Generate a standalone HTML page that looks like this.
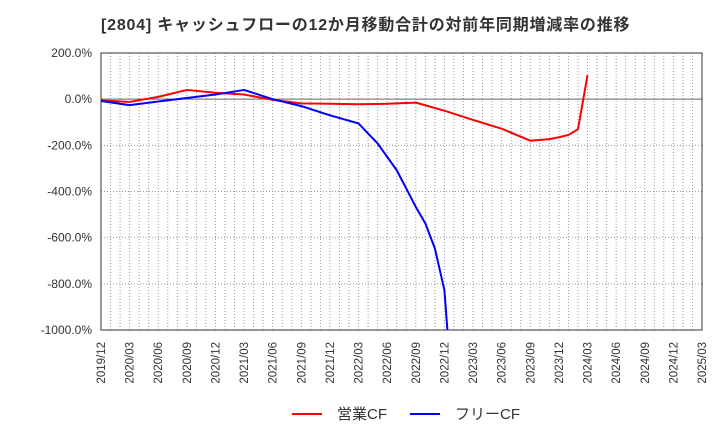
<!DOCTYPE html>
<html><head><meta charset="utf-8"><style>
body{margin:0;background:#fff;}
svg text{font-family:"Liberation Sans","Noto Sans CJK JP",sans-serif;}
</style></head><body>
<svg id="chart" width="720" height="440" xmlns="http://www.w3.org/2000/svg">
<text x="101" y="30" font-size="16" font-weight="bold" letter-spacing="0.8" fill="#333">[2804]  キャッシュフローの12か月移動合計の対前年同期増減率の推移</text>
<defs><clipPath id="pc"><rect x="101" y="53" width="601" height="277"/></clipPath></defs>
<g id="grid"></g><g id="axes"></g><g id="series" clip-path="url(#pc)"></g>
<g>
<line x1="292" y1="414" x2="322" y2="414" stroke="#f00" stroke-width="2"/>
<text x="337" y="419" font-size="15" fill="#333">営業CF</text>
<line x1="410" y1="414" x2="440" y2="414" stroke="#00f" stroke-width="2"/>
<text x="455" y="419" font-size="15" fill="#333">フリーCF</text>
</g>
</svg>
<script>
const xLabels=["2019/12","2020/03","2020/06","2020/09","2020/12","2021/03","2021/06","2021/09","2021/12","2022/03","2022/06","2022/09","2022/12","2023/03","2023/06","2023/09","2023/12","2024/03","2024/06","2024/09","2024/12","2025/03"];
const yTicks=[200,0,-200,-400,-600,-800,-1000];
const opMonths=[0,3,6,9,12,15,18,21,24,27,30,33,36,39,42,45,47,48,49,50,51];
const opValues=[-5,-12,10,40,28,20,-3,-18,-20,-22,-20,-15,-50,-90,-128,-180,-173,-165,-155,-130,104];
const fcfMonths=[0,3,6,9,12,15,18,21,24,27,28,29,30,31,32,33,34,35,36,37];
const fcfValues=[-8,-26,-10,5,20,40,0,-30,-70,-105,-149,-192,-250,-308,-387,-467,-538,-647,-828,-1380];
const X0=101,X1=702,Y0=53,Y1=330,YMAX=200,YMIN=-1000,NM=63;
const xs=m=>X0+(X1-X0)*m/NM;
const ys=v=>Y0+(Y1-Y0)*(YMAX-v)/(YMAX-YMIN);
const NS="http://www.w3.org/2000/svg";
function mk(t,a,p){const e=document.createElementNS(NS,t);for(const k in a)e.setAttribute(k,a[k]);p.appendChild(e);return e;}
const grid=document.getElementById('grid'),axes=document.getElementById('axes'),ser=document.getElementById('series');
for(let m=1;m<NM;m++){const l=mk('line',{x1:xs(m),x2:xs(m),y1:Y0,y2:Y1,stroke:'#999','stroke-dasharray':'1,2','stroke-width':1},grid);

}
yTicks.forEach(v=>{const y=ys(v);
const l=mk('line',{x1:X0,x2:X1,y1:y,y2:y,stroke:v===0?'#666':'#999','stroke-dasharray':v===0?'none':'1,2','stroke-width':1},grid);


const t=mk('text',{x:92,y:y+4,'text-anchor':'end','font-size':12,fill:'#333'},axes);
t.textContent=v.toFixed(1)+'%';

});
const fr=mk('rect',{x:X0,y:Y0,width:X1-X0,height:Y1-Y0,fill:'none',stroke:'#333','stroke-width':1},axes);


xLabels.forEach((s,i)=>{const x=xs(i*3)+4;
const t=mk('text',{x:x,y:342,'text-anchor':'end','font-size':11.5,fill:'#333',transform:`rotate(-90 ${x} 342)`},axes);
t.textContent=s;

});
function line(ms,vs,c,name){const p=mk('polyline',{points:ms.map((m,i)=>xs(m)+','+ys(vs[i])).join(' '),fill:'none',stroke:c,'stroke-width':2,'stroke-linejoin':'round'},ser);

}
line(opMonths,opValues,'#f00','operating-cf-line');
line(fcfMonths,fcfValues,'#00f','free-cf-line');
</script>
</body></html>
